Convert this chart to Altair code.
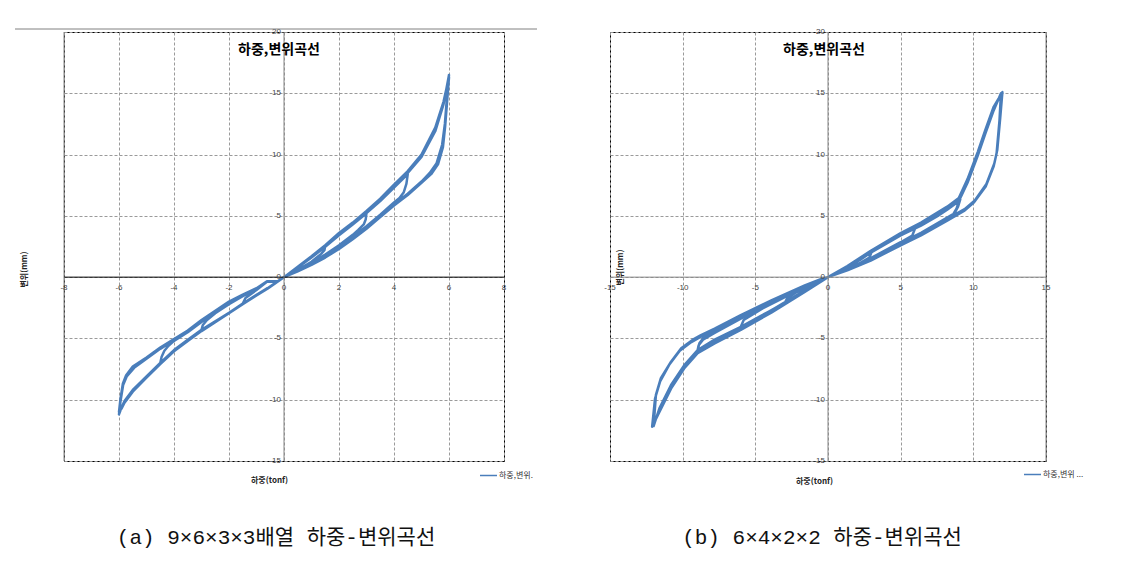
import altair as alt
import pandas as pd

KFONT = "Noto Sans CJK KR"
LINE_COLOR = "#4a7ebb"

# ---------------- panel (a) data : load (tonf) vs displacement (mm) ----------------
a1_load = [0, 0.5, 1.0, 1.5, 1.47, 1.35, 1.0, 0.5, 0, -0.6, -1.0, -1.5, -1.4, -1.0, -0.62, -0.23, 0]
a1_disp = [0, 0.8, 1.65, 2.55, 2.2, 1.9, 1.25, 0.6, 0, -0.9, -1.45, -2.15, -1.7, -1.05, -0.38, -0.35, 0]

a2_load = [0, 0.5, 1.0, 1.5, 2.0, 2.5, 3.0,
           2.97, 2.9, 2.7, 2.5, 2.0, 1.5, 1.0, 0.5, 0,
           -0.6, -1.0, -1.5, -2.0, -2.5, -3.0,
           -2.95, -2.8, -2.5, -2.0, -1.5, -1.0, -0.62, -0.23, 0]
a2_disp = [0, 0.82, 1.62, 2.5, 3.45, 4.32, 5.25,
           4.7, 4.3, 3.85, 3.45, 2.6, 1.85, 1.15, 0.55, 0,
           -0.92, -1.48, -2.18, -2.92, -3.62, -4.3,
           -3.9, -3.5, -2.95, -2.2, -1.55, -1.0, -0.38, -0.35, 0]

a3_load = [0, 0.5, 1.0, 1.5, 2.0, 2.5, 3.0, 3.5, 4.0, 4.5,
           4.45, 4.35, 4.2, 4.0, 3.5, 3.0, 2.5, 2.0, 1.5, 1.0, 0.5, 0,
           -0.6, -1.0, -1.5, -2.0, -2.5, -3.0, -3.5, -4.0, -4.5,
           -4.45, -4.35, -4.2, -4.0, -3.5, -3.0, -2.5, -2.0, -1.5, -1.0, -0.62, -0.23, 0]
a3_disp = [0, 0.78, 1.6, 2.48, 3.42, 4.3, 5.22, 6.2, 7.3, 8.4,
           7.6, 6.9, 6.45, 6.1, 5.1, 4.15, 3.3, 2.5, 1.75, 1.1, 0.55, 0,
           -0.9, -1.46, -2.16, -2.9, -3.6, -4.32, -5.1, -5.95, -7.0,
           -6.5, -6.0, -5.6, -5.2, -4.5, -3.65, -2.9, -2.15, -1.52, -0.97, -0.36, -0.35, 0]

a4_load = [0, 0.5, 1.0, 1.5, 2.0, 2.5, 3.0, 3.5, 4.0, 4.5, 5.0, 5.5, 5.8, 6.0,
           5.92, 5.85, 5.75, 5.55, 5.3, 5.0, 4.5, 4.0, 3.5, 3.0, 2.5, 2.0, 1.5, 1.0, 0.5, 0,
           -0.6, -1.0, -1.5, -2.0, -2.5, -3.0, -3.5, -4.0, -4.5, -5.0, -5.5, -5.8, -5.9, -6.0,
           -5.95, -5.85, -5.72, -5.45, -5.0, -4.5, -4.0, -3.5, -3.0, -2.5, -2.0, -1.5, -1.0, -0.62, -0.23, 0]
a4_disp = [0, 0.8, 1.62, 2.52, 3.5, 4.35, 5.28, 6.25, 7.4, 8.5, 9.8, 11.9, 14.1, 16.5,
           14.5, 12.5, 10.8, 9.3, 8.5, 7.8, 6.8, 5.95, 5.0, 4.05, 3.2, 2.4, 1.65, 1.05, 0.5, 0,
           -0.9, -1.45, -2.15, -2.9, -3.6, -4.3, -5.1, -5.95, -7.0, -8.1, -9.2, -10.1, -10.6, -11.2,
           -10.2, -8.8, -8.1, -7.4, -6.65, -5.85, -5.15, -4.45, -3.6, -2.85, -2.1, -1.5, -0.95, -0.35, -0.35, 0]

a5_load = [0, 0.5, 1.0, 1.5, 2.0, 2.5, 3.0, 3.5, 4.0, 4.5, 5.0, 5.5, 5.8, 6.0,
           5.93, 5.86, 5.78, 5.6, 5.35, 5.0, 4.5, 4.0, 3.5, 3.0, 2.5, 2.0, 1.5, 1.0, 0.5, 0,
           -0.6, -1.0, -1.5, -2.0, -2.5, -3.0, -3.5, -4.0, -4.5, -5.0, -5.5, -5.8, -5.9, -6.0,
           -5.95, -5.86, -5.74, -5.5, -5.0, -4.5, -4.0, -3.5, -3.0, -2.5, -2.0, -1.5, -1.0, -0.62, -0.23, 0]
a5_disp = [0, 0.85, 1.7, 2.6, 3.6, 4.45, 5.4, 6.4, 7.55, 8.65, 10.0, 12.2, 14.3, 16.3,
           14.3, 12.3, 10.6, 9.2, 8.4, 7.7, 6.7, 5.85, 4.9, 3.95, 3.1, 2.3, 1.6, 1.0, 0.48, 0,
           -0.95, -1.5, -2.2, -2.95, -3.68, -4.4, -5.2, -6.05, -7.1, -8.2, -9.35, -10.25, -10.7, -11.0,
           -10.0, -8.7, -8.0, -7.3, -6.55, -5.75, -5.05, -4.35, -3.5, -2.75, -2.0, -1.42, -0.9, -0.33, -0.33, 0]

# ---------------- panel (b) data ----------------
b1_load = [0, 1.33, 2.2, 3.0, 2.85, 2.0, 1.33, 0, -1.6, -2.3, -3.0, -2.8, -2.2, -1.6, -0.46, 0]
b1_disp = [0, 0.8, 1.4, 2.05, 1.6, 1.0, 0.7, 0, -1.08, -1.6, -2.15, -1.7, -1.25, -0.9, -0.16, 0]

b2_load = [0, 1.33, 2.94, 4.5, 6.0, 5.8, 5.0, 2.94, 1.33, 0,
           -1.6, -3.0, -4.5, -6.0, -5.8, -4.5, -3.0, -1.6, -0.46, 0]
b2_disp = [0, 0.82, 2.0, 3.1, 4.0, 3.4, 2.85, 1.55, 0.65, 0,
           -1.08, -2.1, -3.1, -4.05, -3.5, -2.55, -1.65, -0.8, -0.15, 0]

b3_load = [0, 1.33, 2.94, 5.0, 6.4, 7.5, 8.2, 9.0,
           8.85, 8.6, 8.2, 6.4, 5.0, 2.94, 1.33, 0,
           -1.6, -3.9, -6.0, -7.8, -8.97,
           -8.85, -8.6, -7.8, -6.0, -3.9, -1.6, -0.46, 0]
b3_disp = [0, 0.8, 2.0, 3.4, 4.2, 4.95, 5.5, 6.2,
           5.6, 5.1, 4.75, 3.5, 2.7, 1.45, 0.6, 0,
           -1.08, -2.7, -4.05, -5.1, -5.95,
           -5.4, -5.0, -4.4, -3.25, -2.0, -0.75, -0.16, 0]

b4_load = [0, 1.33, 2.94, 5.0, 6.4, 8.2, 9.0, 9.6, 10.3, 10.85, 11.4, 11.9,
           11.8, 11.6, 11.4, 10.85, 10.05, 9.36, 8.2, 6.4, 5.0, 2.94, 1.33, 0,
           -1.6, -3.9, -6.0, -7.8, -8.97, -9.9, -10.8, -11.6, -12.0,
           -11.84, -11.5, -10.8, -10.1, -9.3, -8.74, -7.8, -6.0, -3.9, -1.6, -0.46, 0]
b4_disp = [0, 0.8, 2.0, 3.4, 4.2, 5.5, 6.2, 7.7, 9.9, 11.8, 13.6, 15.0,
           12.8, 10.1, 9.05, 7.4, 6.1, 5.4, 4.6, 3.4, 2.6, 1.35, 0.55, 0,
           -1.08, -2.7, -4.05, -5.1, -5.95, -7.2, -8.8, -10.7, -12.15,
           -9.6, -8.24, -6.9, -5.8, -5.1, -4.73, -4.2, -3.1, -1.9, -0.68, -0.14, 0]

b5_load = [0, 1.33, 2.94, 5.0, 6.4, 8.2, 9.0, 9.6, 10.3, 10.85, 11.4, 12.0,
           11.85, 11.65, 11.45, 10.9, 10.1, 9.4, 8.2, 6.4, 5.0, 2.94, 1.33, 0,
           -1.6, -3.9, -6.0, -7.8, -8.97, -9.9, -10.8, -11.6, -12.1,
           -11.9, -11.55, -10.9, -10.2, -9.4, -8.8, -7.8, -6.0, -3.9, -1.6, -0.46, 0]
b5_disp = [0, 0.9, 2.15, 3.6, 4.45, 5.75, 6.45, 8.0, 10.2, 12.1, 13.9, 15.1,
           13.0, 10.4, 9.3, 7.6, 6.25, 5.55, 4.75, 3.55, 2.75, 1.45, 0.6, 0,
           -1.2, -2.9, -4.3, -5.4, -6.2, -7.45, -9.1, -11.0, -12.2,
           -9.9, -8.5, -7.1, -6.0, -5.3, -4.9, -4.35, -3.25, -2.0, -0.75, -0.18, 0]

b6_load = [0, 1.33, 2.94, 5.0, 6.4, 7.5, 8.2, 9.1,
           8.95, 8.7, 8.2, 6.4, 5.0, 2.94, 1.33, 0,
           -1.6, -3.9, -6.0, -7.8, -9.0,
           -8.9, -8.6, -7.8, -6.0, -3.9, -1.6, -0.46, 0]
b6_disp = [0, 0.88, 2.12, 3.55, 4.4, 5.1, 5.7, 6.35,
           5.75, 5.2, 4.85, 3.62, 2.8, 1.55, 0.68, 0,
           -1.18, -2.85, -4.25, -5.3, -6.1,
           -5.55, -5.1, -4.55, -3.38, -2.1, -0.82, -0.18, 0]

# ---------------- axes / labels ----------------
xticks_a = [-8, -6, -4, -2, 0, 2, 4, 6, 8]
xticks_b = [-15, -10, -5, 0, 5, 10, 15]
yticks = [20, 15, 10, 5, 0, -5, -10, -15]

chart_title = "하중,변위곡선"
x_title = "하중(tonf)"
y_title = "변위(mm)"
series_a = "하중,변위."
series_b = "하중,변위 ..."
caption_a = "(a) 9×6×3×3배열 하중-변위곡선"
caption_b = "(b) 6×4×2×2 하중-변위곡선"


def build_df(loads, disps, series):
    L, D = [], []
    for l, d in zip(loads, disps):
        assert len(l) == len(d), (len(l), len(d))
        L.extend(l)
        D.extend(d)
    return pd.DataFrame({"load": L, "disp": D, "idx": list(range(len(L))), "series": series})


df_a = build_df([a1_load, a2_load, a3_load, a4_load, a5_load],
                [a1_disp, a2_disp, a3_disp, a4_disp, a5_disp], series_a)
df_b = build_df([b1_load, b2_load, b3_load, b4_load, b5_load, b6_load],
                [b1_disp, b2_disp, b3_disp, b4_disp, b5_disp, b6_disp], series_b)


def panel(df, series, xticks, w, h, cfg):
    xscale = alt.Scale(domain=[xticks[0], xticks[-1]], nice=False, zero=False)
    yscale = alt.Scale(domain=[-15, 20], nice=False, zero=False)

    x_axis = alt.Axis(values=xticks, labels=False, ticks=False, domain=False, grid=True,
                      gridColor="#9a9a9a", gridDash=[3, 2], gridWidth=1,
                      title=x_title, titleFont=KFONT, titleFontSize=8, titleFontWeight="bold",
                      titleColor="#222222", titleX=cfg["xtx"], titleY=cfg["xty"],
                      titleAlign="center", titleBaseline="middle")
    y_axis = alt.Axis(values=yticks, labels=False, ticks=False, domain=False, grid=True,
                      gridColor="#9a9a9a", gridDash=[3, 2], gridWidth=1,
                      title=y_title, titleFont=KFONT, titleFontSize=8, titleFontWeight="bold",
                      titleColor="#222222", titleX=cfg["ytx"], titleY=cfg["yty"],
                      titleAlign="center", titleBaseline="middle")

    def X(f):
        return alt.X(f, scale=xscale, axis=x_axis, title=x_title)

    def Y(f):
        return alt.Y(f, scale=yscale, axis=y_axis, title=y_title)

    line = alt.Chart(df).mark_line(strokeWidth=2.5, strokeJoin="round").encode(
        x=X("load:Q"),
        y=Y("disp:Q"),
        color=alt.Color("series:N", scale=alt.Scale(domain=[series], range=[LINE_COLOR]),
                        legend=alt.Legend(title=None, orient="none", legendX=cfg["lx"], legendY=cfg["ly"],
                                          symbolType="stroke", symbolSize=289, symbolStrokeWidth=1.5,
                                          labelFont=KFONT, labelFontSize=8, labelColor="#333333",
                                          padding=0, labelOffset=1)),
        order=alt.Order("idx:Q"),
    )

    zero_df = pd.DataFrame({"z": [0]})
    hrule = alt.Chart(zero_df).mark_rule(color=cfg["hcolor"], strokeWidth=1).encode(y=Y("z:Q"))
    vrule = alt.Chart(zero_df).mark_rule(color="#868686", strokeWidth=1).encode(x=X("z:Q"))
    edge = alt.Chart(pd.DataFrame({"e": [cfg["edge"]]})).mark_rule(color="#868686", strokeWidth=1).encode(
        x=X("e:Q"))

    xt_df = pd.DataFrame({"t": xticks, "z": [0] * len(xticks), "lab": [str(t) for t in xticks]})
    yt_df = pd.DataFrame({"t": yticks, "z": [0] * len(yticks), "lab": [str(t) for t in yticks]})
    xl = alt.Chart(xt_df).mark_text(dy=11, fontSize=8, font="Liberation Sans", color="#444444",
                                    baseline="middle").encode(x=X("t:Q"), y=Y("z:Q"), text="lab:N")
    yl = alt.Chart(yt_df).mark_text(dx=-3, fontSize=8, font="Liberation Sans", color="#444444",
                                    align="right", baseline="middle").encode(
        x=X("z:Q"), y=Y("t:Q"), text="lab:N")

    one = pd.DataFrame({"s": [chart_title], "c": [cfg["caption"]]})
    title = alt.Chart(one).mark_text(font=KFONT, fontSize=14, fontWeight="bold", color="#000000",
                                     baseline="middle").encode(
        x=alt.value(cfg["tx"]), y=alt.value(cfg["ty"]), text="s:N")
    caption = alt.Chart(one).mark_text(font="Liberation Mono, Noto Sans CJK KR", fontSize=21,
                                       color="#111111", baseline="middle").encode(
        x=alt.value(cfg["cx"]), y=alt.value(cfg["cy"]), text="c:N")

    layers = [line, hrule, vrule, edge, xl, yl, title, caption]
    if cfg.get("toprule"):
        top = alt.Chart(one).mark_rule(color="#808080", strokeWidth=1).encode(
            x=alt.value(cfg["toprule"][0]), x2=alt.value(cfg["toprule"][1]), y=alt.value(-3))
        layers.append(top)
    return alt.layer(*layers).properties(width=w, height=h)


left = panel(df_a, series_a, xticks_a, 440, 429, {
    "xtx": 205, "xty": 19, "ytx": -40, "yty": 237,
    "lx": 415, "ly": 434, "hcolor": "#000000", "edge": -8,
    "tx": 215, "ty": 18, "cx": 212, "cy": 506, "caption": caption_a,
    "toprule": (-49, 473)})
right = panel(df_b, series_b, xticks_b, 436, 429, {
    "xtx": 204, "xty": 20, "ytx": 10, "yty": 235,
    "lx": 413, "ly": 433, "hcolor": "#868686", "edge": 15,
    "tx": 214, "ty": 18, "cx": 212, "cy": 506, "caption": caption_b})

chart = alt.hconcat(left, right, spacing=65).resolve_scale(
    x="independent", y="independent", color="independent").resolve_legend(
    color="independent").properties(
    padding={"left": 6, "top": 19, "right": 10, "bottom": 16}).configure_view(
    stroke="#000000", strokeWidth=1)

chart.save("out.html", embed_options={"renderer": "svg", "actions": False})
